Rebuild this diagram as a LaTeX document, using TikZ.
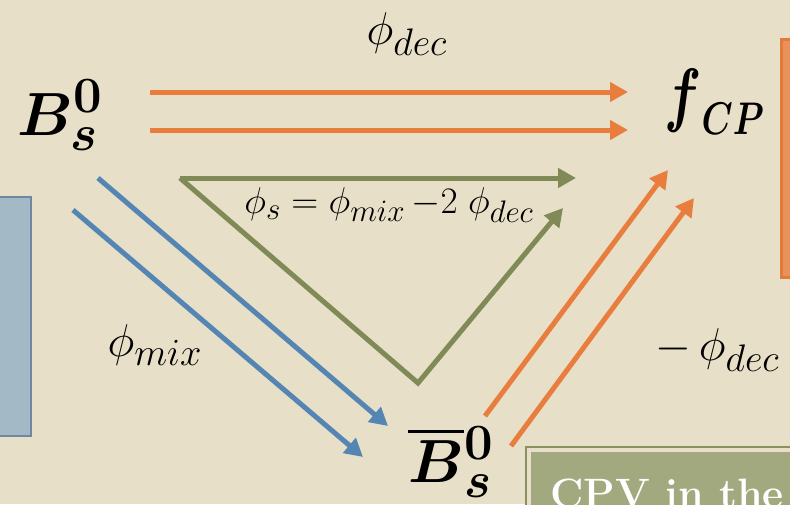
\documentclass[tikz,border=0pt]{standalone}
\usepackage{amsmath}
\usepackage{bm}
\usetikzlibrary{arrows.meta}
\definecolor{bg}{HTML}{E7DFC7}
\definecolor{orng}{HTML}{E87D3E}
\definecolor{blu}{HTML}{5586B3}
\definecolor{grn}{HTML}{7F8A56}
\definecolor{bluefill}{HTML}{A3B9C6}
\definecolor{blueedge}{HTML}{6F87A0}
\definecolor{orfill}{HTML}{E8915A}
\definecolor{oredge}{HTML}{E07B3A}
\definecolor{grfill}{HTML}{A3A97F}
\definecolor{gredge}{HTML}{8A9160}
\tikzset{
  arr/.style={line width=5pt, -{Triangle[length=18pt,width=19pt]}},
  orarr/.style={arr, draw=orng},
  bluarr/.style={arr, draw=blu},
  grnarr/.style={arr, draw=grn},
  big/.style={inner sep=0pt, font=\Huge, scale=2.45},
  lbl/.style={inner sep=0pt, font=\Huge, scale=1.85},
  lblsmall/.style={inner sep=0pt, font=\Huge, scale=1.5},
}
\begin{document}
\begin{tikzpicture}[x=1pt,y=-1pt]
\useasboundingbox (0,0) rectangle (790,504);
\clip (0,0) rectangle (790,504);
\fill[bg] (0,0) rectangle (790,504);
% side boxes
\draw[fill=bluefill, draw=blueedge, line width=2pt] (-10,197) rectangle (31,436);
\draw[fill=orfill, draw=oredge, line width=3pt] (781,39) rectangle (800,277);
\draw[fill=bg, draw=gredge, line width=2pt] (526,447) rectangle (800,520);
\fill[grfill] (531,452) rectangle (800,520);
\node[anchor=base west, inner sep=0pt, text=white, font=\fontsize{41}{41}\selectfont\bfseries] (cpv) at (550,507) {CPV in the i};
% main nodes
\node[big, anchor=base west] (B) at (17,135) {$\bm{B_s^0}$};
\node[big, anchor=base west, scale=0.9] (F) at (664,118) {\scalebox{0.77}[1]{$\scalebox{1.3}{$\bm{f}$}_{\bm{CP}}$}};
\node[big, anchor=base west] (Bb) at (408,482) {$\bm{\overline{B}{}_s^0}$};
% coordinates
\coordinate (o1s) at (150,92);  \coordinate (o1e) at (628,92);
\coordinate (o2s) at (150,130); \coordinate (o2e) at (628,130);
\coordinate (b1s) at (98,178);  \coordinate (b1e) at (388,426);
\coordinate (b2s) at (73,210);  \coordinate (b2e) at (363,457);
\coordinate (g0) at (180,178);  \coordinate (g1) at (576,178);
\coordinate (gv) at (418,383);  \coordinate (g2) at (563,208);
\coordinate (d1s) at (485,416); \coordinate (d1e) at (668,170);
\coordinate (d2s) at (511,446); \coordinate (d2e) at (694,198);
% arrows
\draw[orarr] (o1s) -- (o1e);
\draw[orarr] (o2s) -- (o2e);
\draw[bluarr] (b1s) -- (b1e);
\draw[bluarr] (b2s) -- (b2e);
\draw[grnarr] (g0) -- (g1);
\draw[grnarr, line join=miter] (g0) -- (gv) -- (g2);
\draw[orarr] (d1s) -- (d1e);
\draw[orarr] (d2s) -- (d2e);
% labels
\node[lbl] (ldec) at (407,34) {$\phi_{dec}$};
\node[lblsmall] (ls) at (389,205) {$\phi_s=\phi_{mix}\,{-2}\;\phi_{dec}$};
\node[lbl] (lmix) at (155,345) {$\phi_{mix}$};
\node[lbl, anchor=west] (lmdec) at (655,350) {$-\,\phi_{dec}$};
\end{tikzpicture}
\end{document}
